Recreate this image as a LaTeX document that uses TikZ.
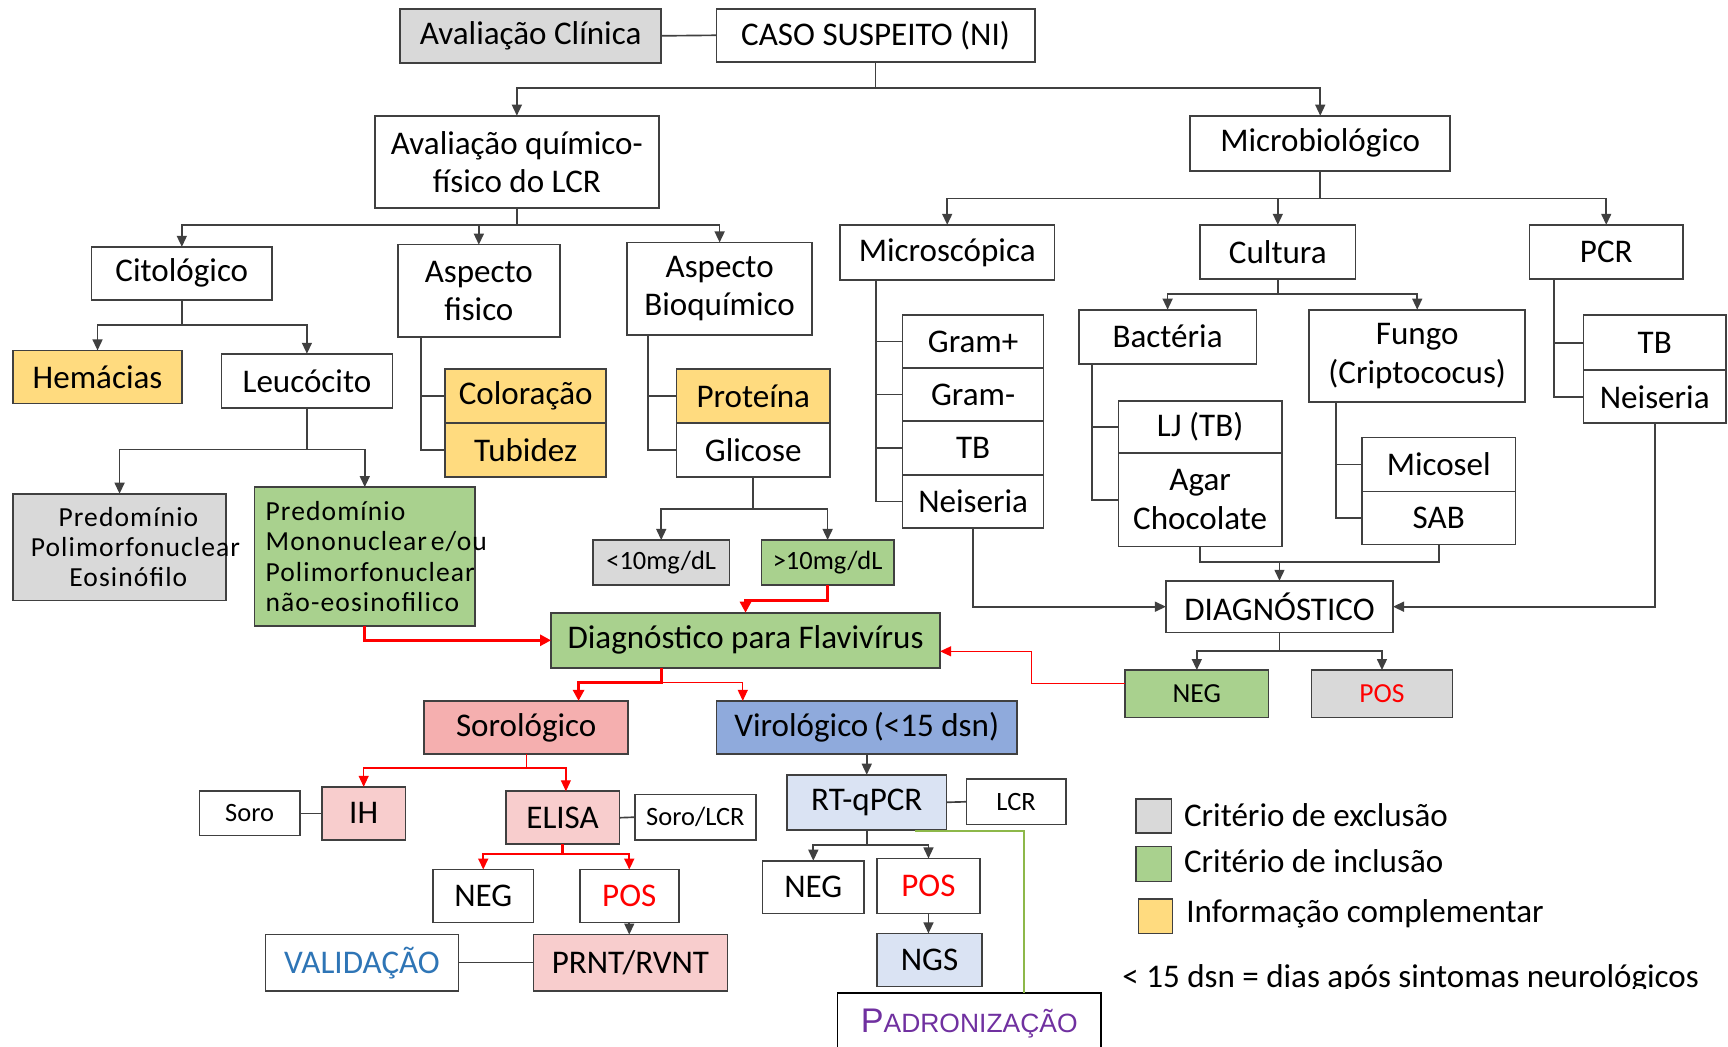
\documentclass[tikz,border=0pt]{standalone}
\usepackage{fontspec}
\setmainfont{Carlito}
\newfontfamily\trackfont[LetterSpace=4]{Carlito}
\newfontfamily\arialfont{Liberation Sans}
\usetikzlibrary{arrows.meta,calc}

\definecolor{bordc}{HTML}{404040}
\definecolor{linec}{HTML}{404040}
\definecolor{greyc}{HTML}{D9D9D9}
\definecolor{yellowc}{HTML}{FFDB7F}
\definecolor{greenc}{HTML}{A9D18E}
\definecolor{pinkc}{HTML}{F5AFAF}
\definecolor{lpinkc}{HTML}{F8CDCD}
\definecolor{bluec}{HTML}{8FAADC}
\definecolor{lbluec}{HTML}{DAE3F3}
\definecolor{valc}{HTML}{2E75B6}
\definecolor{padc}{HTML}{7030A0}
\definecolor{glinec}{HTML}{8DB84A}
\definecolor{redc}{HTML}{FF0000}

\tikzset{
  boxbase/.style={draw=bordc, line width=0.75pt, inner sep=0pt, outer sep=0pt,
    align=center, font=\fontsize{15}{17.5}\selectfont, text=black},
  wbox/.style={boxbase, fill=white},
  gbox/.style={boxbase, fill=greyc},
  ybox/.style={boxbase, fill=yellowc},
  grbox/.style={boxbase, fill=greenc},
  pkbox/.style={boxbase, fill=pinkc},
  lpbox/.style={boxbase, fill=lpinkc},
  bbox/.style={boxbase, fill=bluec},
  lbbox/.style={boxbase, fill=lbluec},
  smallf/.style={font=\fontsize{12}{14}\selectfont},
  dnf/.style={font=\fontsize{12.5}{14}\selectfont},
  trackf/.style={font=\trackfont\fontsize{12.5}{13.75}\selectfont},
  ln/.style={draw=linec, line width=0.75pt},
  arr/.style={ln, -{Triangle[width=4.5pt,length=5pt]}},
  rthick/.style={draw=redc, line width=1.5pt, -{Triangle[width=5pt,length=5pt]}},
  rmid/.style={draw=redc, line width=1pt, -{Triangle[width=4.5pt,length=5pt]}},
  rthin/.style={draw=redc, line width=0.6pt, -{Triangle[width=4.5pt,length=5pt]}},
  rmidl/.style={draw=redc, line width=1pt},
  rthinl/.style={draw=redc, line width=0.6pt},
  gline/.style={draw=glinec, line width=0.75pt},
  lgtext/.style={anchor=west, inner sep=0pt, font=\fontsize{15}{17}\selectfont},
}

\newcommand\mkbox[7]{%
  \pgfmathsetmacro\mkbw{(#4-#2)*0.5}%
  \pgfmathsetmacro\mkbh{(#5-#3)*0.5}%
  \node[#6, minimum width=\mkbw pt, minimum height=\mkbh pt] (#1) at ({(#2+#4)/2},{(#3+#5)/2}) {#7};}

\begin{document}
\begin{tikzpicture}[x=0.5pt,y=-0.5pt]
\useasboundingbox (0,0) rectangle (1568,950);
\clip (0,0) rectangle (1568,950);
\fill[white] (0,0) rectangle (1568,950);

% ---- top
\mkbox{ac}{363}{8}{600}{57}{gbox}{Avaliação Clínica}
\mkbox{caso}{650}{8}{939}{56}{wbox}{CASO SUSPEITO (NI)}
\mkbox{aq}{340}{105}{598}{189}{wbox}{Avaliação químico-\\físico do LCR}
\mkbox{micro}{1080}{105}{1316}{155}{wbox}{Microbiológico}

% ---- left branch
\mkbox{cito}{83}{224}{247}{272}{wbox}{Citológico}
\mkbox{af}{361}{222}{508}{306}{wbox}{Aspecto\\fisico}
\mkbox{ab}{569}{220}{737}{304}{wbox}{Aspecto\\Bioquímico}
\mkbox{hem}{12}{318}{165}{366}{ybox}{Hemácias}
\mkbox{leu}{201}{321}{356}{370}{wbox}{Leucócito}
\mkbox{col}{404}{335}{550}{384}{ybox}{Coloração}
\mkbox{tub}{404}{384}{550}{433}{ybox}{Tubidez}
\mkbox{prot}{614}{335}{753}{384}{ybox}{Proteína}
\mkbox{gli}{614}{384}{753}{433}{wbox}{Glicose}
\mkbox{ppe}{12}{448}{205}{545}{gbox,trackf,text width=96.5pt}{\mbox{\hspace*{8pt}Predomínio}\\\mbox{\hspace*{8pt}Polimorfonuclear}\\\mbox{\hspace*{8pt}Eosinófilo}}
\mkbox{pmn}{231}{442}{431}{568}{grbox,trackf,align=left,text width=90pt}{\mbox{Predomínio}\\\mbox{Mononuclear\kern-2.5pt\ e/ou}\\\mbox{Polimorfonuclear}\\\mbox{não-eosinofilico}}
\mkbox{lt}{538}{490}{662}{531}{gbox,smallf}{<10mg/dL}
\mkbox{gt}{691}{490}{811}{531}{grbox,smallf}{>10mg/dL}
\mkbox{dflav}{500}{556}{853}{606}{grbox}{Diagnóstico para Flavivírus}

% ---- right branch
\mkbox{msc}{762}{204}{957}{254}{wbox}{Microscópica}
\mkbox{cult}{1089}{204}{1230}{253}{wbox}{Cultura}
\mkbox{pcr}{1388}{204}{1527}{253}{wbox}{PCR}
\mkbox{gp}{819}{286}{947}{334}{wbox}{Gram+}
\mkbox{gm}{819}{334}{947}{382}{wbox}{Gram-}
\mkbox{tbm}{819}{382}{947}{431}{wbox}{TB}
\mkbox{neim}{819}{431}{947}{479}{wbox}{Neiseria}
\mkbox{bac}{979}{281}{1140}{330}{wbox}{Bactéria}
\mkbox{fun}{1188}{281}{1384}{365}{wbox}{Fungo\\(Criptococus)}
\mkbox{lj}{1015}{364}{1163}{411}{wbox}{LJ (TB)}
\mkbox{agar}{1015}{411}{1163}{496}{wbox}{Agar\\Chocolate}
\mkbox{mic}{1236}{397}{1375}{446}{wbox}{Micosel}
\mkbox{sab}{1236}{446}{1375}{494}{wbox}{SAB}
\mkbox{tbp}{1437}{286}{1566}{336}{wbox}{TB}
\mkbox{neip}{1437}{336}{1566}{384}{wbox}{Neiseria}
\mkbox{diag}{1058}{527}{1264}{574}{wbox}{DIAGNÓSTICO}
\mkbox{negd}{1021}{608}{1151}{651}{grbox,dnf}{NEG}
\mkbox{posd}{1190}{608}{1318}{651}{gbox,dnf,text=redc}{POS}

% ---- bottom
\mkbox{soro}{385}{636}{570}{684}{pkbox}{Sorológico}
\mkbox{viro}{650}{636}{923}{684}{bbox}{Virológico\,(<15 dsn)}
\mkbox{sor}{181}{718}{272}{758}{wbox,smallf}{Soro}
\mkbox{ih}{292}{714}{368}{762}{lpbox}{IH}
\mkbox{eli}{459}{718}{562}{766}{lpbox}{ELISA}
\mkbox{slcr}{576}{721}{686}{762}{wbox,smallf}{Soro/LCR}
\mkbox{nege}{393}{789}{484}{837}{wbox}{NEG}
\mkbox{pose}{526}{789}{616}{837}{wbox,text=redc}{POS}
\mkbox{prnt}{484}{848}{660}{899}{lpbox}{PRNT/RVNT}
\mkbox{val}{241}{848}{416}{899}{wbox,text=valc}{VALIDAÇÃO}
\mkbox{rt}{714}{703}{859}{753}{lbbox}{RT-qPCR}
\mkbox{lcr}{877}{707}{967}{748}{wbox,smallf}{LCR}
\mkbox{negr}{692}{781}{784}{829}{wbox}{NEG}
\mkbox{posr}{796}{779}{889}{829}{wbox,text=redc}{POS}
\mkbox{ngs}{796}{847}{891}{895}{lbbox}{NGS}
\mkbox{pad}{760}{901}{999}{956}{wbox,draw=black,text=padc}{{\arialfont\fontsize{15.5}{17}\selectfont P\fontsize{12}{14}\selectfont ADRONIZAÇÃO}}

% ---- legend
\mkbox{lg1}{1031}{725}{1063}{756}{gbox}{}
\mkbox{lg2}{1031}{768}{1063}{800}{grbox}{}
\mkbox{lg3}{1033}{816}{1064}{847}{ybox}{}
\node[lgtext] (lt1) at (1074,740) {Critério de exclusão};
\node[lgtext] (lt2) at (1074,781) {Critério de inclusão};
\node[lgtext] (lt3) at (1076,829) {Informação complementar};
\begin{scope}
\clip (1000,860) rectangle (1568,897);
\node[lgtext] (lt4) at (1018,888) {< 15 dsn = dias após sintomas neurológicos};
\end{scope}

% ---- connectors top
\draw[ln] (ac.east) -- (caso.west);
\coordinate (j1) at ($(caso.south)+(0,24)$);
\draw[ln] (caso.south) -- (j1);
\draw[arr] (j1) -| (aq.north);
\draw[arr] (j1) -| (micro.north);

\coordinate (j2) at ($(aq.south)+(0,15)$);
\draw[ln] (aq.south) -- (j2);
\draw[arr] (j2) -| (cito.north);
\draw[arr] (j2) -| (af.north);
\draw[arr] (j2) -| (ab.north);

\coordinate (j3) at ($(cito.south)+(0,23)$);
\draw[ln] (cito.south) -- (j3);
\draw[arr] (j3) -| (hem.north);
\draw[arr] (j3) -| (leu.north);

\coordinate (afx) at ($(af.south west)+(21,0)$);
\draw[ln] (afx) |- (col.west);
\draw[ln] (afx) |- (tub.west);
\coordinate (abx) at ($(ab.south west)+(19,0)$);
\draw[ln] (abx) |- (prot.west);
\draw[ln] (abx) |- (gli.west);

\coordinate (j4) at ($(leu.south)+(0,38)$);
\draw[ln] (leu.south) -- (j4);
\draw[arr] (j4) -| (ppe.north);
\draw[arr] (j4) -| (pmn.north);

\coordinate (j5) at ($(gli.south)+(0,29)$);
\draw[ln] (gli.south) -- (j5);
\draw[arr] (j5) -| (lt.north);
\draw[arr] (j5) -| (gt.north);

% ---- red connectors
\draw[rthick] (gt.south) -- ++(0,14) -| (dflav.north);
\draw[rthick] (pmn.south) |- (dflav.west);
\draw[rthin] ($(negd.west)+(0,-9)$) -- ++(-85,0) |- ($(dflav.east)+(0,10)$);

\coordinate (j6) at ($(dflav.south west)+(100,0)$);
\coordinate (j7) at ($(j6)+(0,13)$);
\draw[rthick] (j6) -- (j7) -| ($(soro.north west)+(140,0)$);
\draw[rthin] (j7) -| ($(viro.north west)+(24,0)$);

\coordinate (j8) at ($(soro.south)+(0,13)$);
\draw[rthinl] (soro.south) -- (j8);
\draw[rthin] (j8) -| (ih.north);
\draw[rthin] (j8) -| ($(eli.north)+(3,0)$);

\coordinate (j9) at ($(eli.south)+(0,9)$);
\draw[rmidl] (eli.south) -- (j9);
\draw[rmid] (j9) -| (nege.north);
\draw[rmid] (j9) -| (pose.north);

\draw[arr] (pose.south) -- (pose.south |- prnt.north);
\draw[ln] (sor.east) -- (ih.west);
\draw[ln] (eli.east) -- (slcr.west);
\draw[ln] (val.east) -- (prnt.west);

% ---- virologico
\draw[arr] (viro.south) -- (viro.south |- rt.north);
\draw[ln] (rt.east) -- (lcr.west);
\coordinate (j10) at ($(rt.south)+(0,14)$);
\draw[ln] (rt.south) -- (j10);
\draw[arr] (j10) -| (negr.north);
\draw[arr] (j10) -| (posr.north);
\draw[arr] (posr.south) -- (posr.south |- ngs.north);
\draw[gline] ($(rt.south east)+(-29,1)$) -| ($(pad.north west)+(169,0)$);

% ---- microbiologico
\coordinate (k1) at ($(micro.south)+(0,25)$);
\draw[ln] (micro.south) -- (k1);
\draw[arr] (k1) -| (msc.north);
\draw[arr] (k1) -| (cult.north);
\draw[arr] (k1) -| (pcr.north);

\coordinate (mx) at ($(msc.south west)+(33,0)$);
\foreach \nn in {gp,gm,tbm,neim} \draw[ln] (mx) |- (\nn.west);

\coordinate (k2) at ($(cult.south)+(0,14)$);
\draw[ln] (cult.south) -- (k2);
\draw[arr] (k2) -| (bac.north);
\draw[arr] (k2) -| (fun.north);

\coordinate (bx) at ($(bac.south west)+(12,0)$);
\draw[ln] (bx) |- (lj.west);
\draw[ln] (bx) |- (agar.west);
\coordinate (fx) at ($(fun.south west)+(24,0)$);
\draw[ln] (fx) |- (mic.west);
\draw[ln] (fx) |- (sab.west);
\coordinate (px) at ($(pcr.south west)+(22,0)$);
\draw[ln] (px) |- (tbp.west);
\draw[ln] (px) |- (neip.west);

\coordinate (k3) at ($(diag.north)+(0,-17)$);
\draw[ln] (agar.south) |- (k3);
\draw[ln] (sab.south) |- (k3);
\draw[arr] (k3) -- (diag.north);
\draw[arr] (neim.south) |- (diag.west);
\draw[arr] (neip.south) |- (diag.east);
\coordinate (k4) at ($(diag.south)+(0,17)$);
\draw[ln] (diag.south) -- (k4);
\draw[arr] (k4) -| (negd.north);
\draw[arr] (k4) -| (posd.north);
\end{tikzpicture}
\end{document}
